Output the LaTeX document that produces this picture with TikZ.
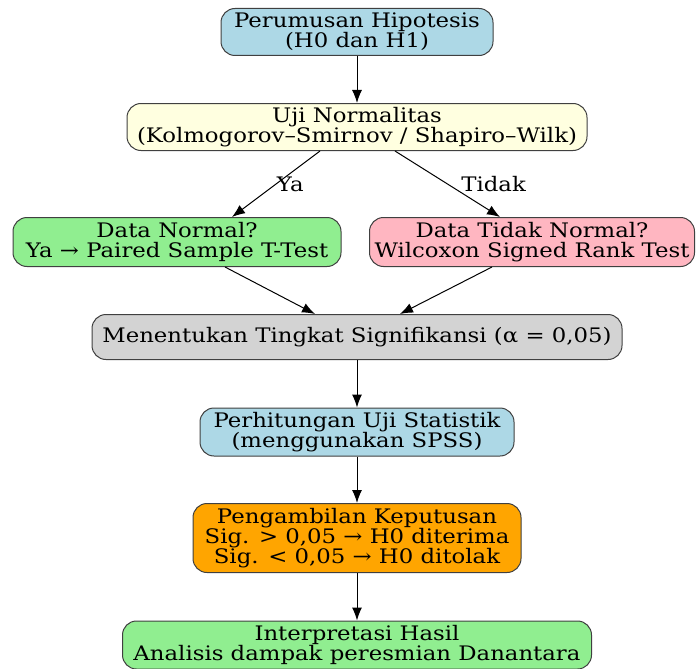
\documentclass[tikz,border=0pt]{standalone}
\usepackage{fontspec}
\setmainfont[FakeStretch=1.14]{DejaVu Serif}
\usetikzlibrary{arrows.meta}

\definecolor{lblue}{RGB}{173,216,230}
\definecolor{lyellow}{RGB}{255,255,224}
\definecolor{lgreen}{RGB}{144,238,144}
\definecolor{lpink}{RGB}{255,182,193}
\definecolor{lgrey}{RGB}{211,211,211}
\definecolor{dorange}{RGB}{255,165,0}

\tikzset{
	box/.style = {draw = black!75, line width = 1pt, rounded corners = 14pt, align = center, inner sep = 0pt,
		font = \fontsize{20}{20}\selectfont},
	arr/.style = {-{Latex[length=13pt,width=10pt]}, line width = 1pt},
	lbl/.style = {font = \fontsize{20}{20}\selectfont}
}

\begin{document}
\begin{tikzpicture}[x=1pt, y=-1pt]
		\useasboundingbox (0,0) rectangle (699,669);
		%nodes, top to bottom
		\node[box, fill = lblue, minimum width = 272pt, minimum height = 47pt] (hipotesis) at (357,32)
			{Perumusan Hipotesis\\(H0 dan H1)};
		\node[box, fill = lyellow, minimum width = 460pt, minimum height = 47pt] (uji) at (357,127)
			{Uji Normalitas\\(Kolmogorov–Smirnov / Shapiro–Wilk)};
		\node[box, fill = lgreen, minimum width = 328pt, minimum height = 49pt] (normal) at (177,242)
			{Data Normal?\\Ya → Paired Sample T-Test};
		\node[box, fill = lpink, minimum width = 325pt, minimum height = 49pt] (tidak) at (532,242)
			{Data Tidak Normal?\\Wilcoxon Signed Rank Test};
		\node[box, fill = lgrey, minimum width = 530pt, minimum height = 45pt] (alpha) at (357,337)
			{Menentukan Tingkat Signifikansi (α = 0,05)};
		\node[box, fill = lblue, minimum width = 314pt, minimum height = 48pt] (spss) at (357,432)
			{Perhitungan Uji Statistik\\(menggunakan SPSS)};
		\node[box, fill = dorange, minimum width = 328pt, minimum height = 69pt] (keputusan) at (357,538)
			{Pengambilan Keputusan\\Sig. > 0,05 → H0 diterima\\Sig. < 0,05 → H0 ditolak};
		\node[box, fill = lgreen, minimum width = 469pt, minimum height = 48pt] (hasil) at (357,645)
			{Interpretasi Hasil\\Analisis dampak peresmian Danantara};

		%connectors
		\draw[arr] (hipotesis) -- (uji);
		\draw[arr] ([xshift=-37pt]uji.south) -- ([xshift=55pt]normal.north)
			node[lbl, pos=0.5, right, xshift=-3pt] (ya) {Ya};
		\draw[arr] ([xshift=38pt]uji.south) -- ([xshift=-32pt]tidak.north)
			node[lbl, pos=0.5, right, xshift=10pt] (td) {Tidak};
		\draw[arr] ([xshift=48pt]normal.south) -- ([xshift=-42pt]alpha.north);
		\draw[arr] ([xshift=-40pt]tidak.south) -- ([xshift=43pt]alpha.north);
		\draw[arr] (alpha) -- (spss);
		\draw[arr] (spss) -- (keputusan);
		\draw[arr] (keputusan) -- (hasil);
\end{tikzpicture}
\end{document}
